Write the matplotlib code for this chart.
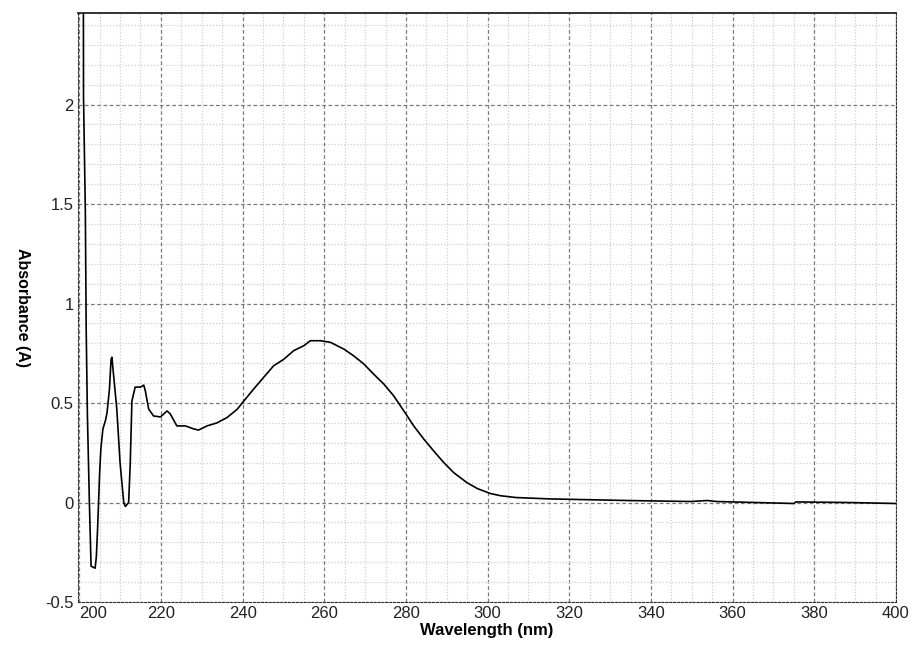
import matplotlib
matplotlib.use("Agg")
import matplotlib.pyplot as plt
from matplotlib.ticker import MultipleLocator, FuncFormatter

# absorbance spectrum
wavelength = [201.0, 201.05, 201.5, 201.7, 202.0, 202.5, 202.9, 203.9, 204.2, 204.5,
              205.0, 205.3, 205.8, 206.4, 206.8, 207.4, 207.8, 208.0, 209.2, 210.0,
              210.9, 211.3, 212.1, 212.5, 212.9, 213.7, 215.0, 215.8, 216.2, 217.0,
              218.2, 219.9, 221.5, 222.3, 223.9, 226.0, 228.0, 229.2, 231.3, 233.7,
              236.2, 238.7, 240.3, 242.7, 245.2, 247.6, 250.1, 252.5, 255.0, 256.6,
              259.1, 261.5, 264.8, 267.2, 269.7, 272.1, 274.6, 277.0, 279.5, 281.9,
              284.4, 286.8, 289.3, 291.7, 295.0, 297.5, 300.7, 303.2, 306.9, 315.4,
              334.2, 349.8, 353.8, 356.0, 375.0, 375.5, 388.1, 400.0]
absorbance = [2.8, 2.04, 1.46, 0.88, 0.44, -0.01, -0.32, -0.33, -0.27, -0.13,
              0.15, 0.27, 0.37, 0.41, 0.45, 0.57, 0.72, 0.73, 0.47, 0.20,
              0.0, -0.02, 0.0, 0.20, 0.51, 0.58, 0.58, 0.59, 0.56, 0.47,
              0.435, 0.43, 0.46, 0.445, 0.385, 0.385, 0.37, 0.364, 0.385, 0.40,
              0.427, 0.469, 0.51, 0.57, 0.63, 0.687, 0.72, 0.763, 0.788, 0.813,
              0.813, 0.805, 0.771, 0.737, 0.696, 0.645, 0.595, 0.536, 0.46, 0.385,
              0.318, 0.259, 0.20, 0.15, 0.099, 0.07, 0.045, 0.034, 0.025, 0.018,
              0.010, 0.005, 0.010, 0.005, -0.005, 0.003, 0.0, -0.005]

x_ticks = [200, 220, 240, 260, 280, 300, 320, 340, 360, 380, 400]
y_ticks = [-0.5, 0, 0.5, 1, 1.5, 2]

plt.rcParams["font.family"] = ["Liberation Sans", "DejaVu Sans"]

fig = plt.figure(figsize=(9.15, 6.58), dpi=100)
ax = fig.add_axes([78 / 915, 1 - 602 / 658, 818 / 915, 589 / 658])

ax.plot(wavelength, absorbance, color="black", lw=1.2)

ax.set_xlim(199.7, 400)
ax.set_ylim(-0.5, 2.46)
ax.set_xticks(x_ticks)
ax.set_yticks(y_ticks)
ax.xaxis.set_minor_locator(MultipleLocator(5))
ax.yaxis.set_minor_locator(MultipleLocator(0.1))
ax.yaxis.set_major_formatter(FuncFormatter(lambda v, p: f"{v:g}"))

ax.grid(which="major", color="#7a7a7a", linestyle=(0, (3, 2)), lw=0.9)
ax.grid(which="minor", color="#cfcfcf", linestyle=(0, (1, 1.5)), lw=0.9)
ax.set_axisbelow(True)
ax.tick_params(which="both", length=0, labelsize=12, colors="#222222")
ax.tick_params(axis="x", pad=3)
ax.tick_params(axis="y", pad=3)

for side in ["left", "bottom", "right"]:
    ax.spines[side].set_linestyle((0, (2, 1.5)))
    ax.spines[side].set_color("#333333")
ax.spines["top"].set_color("#222222")
ax.spines["top"].set_linewidth(1.3)

# first x label sits inside the frame in the reference
fig.canvas.draw()
ax.get_xticklabels()[0].set_horizontalalignment("left")

fig.text(487 / 915, 1 - 631 / 658, "Wavelength (nm)", ha="center", va="center",
         fontsize=12, fontweight="bold")
fig.text(22 / 915, 1 - 307 / 658, "Absorbance (A)", ha="center", va="center",
         rotation=270, fontsize=11.5, fontweight="bold")

fig.savefig("out.png", dpi=100, facecolor="white")
